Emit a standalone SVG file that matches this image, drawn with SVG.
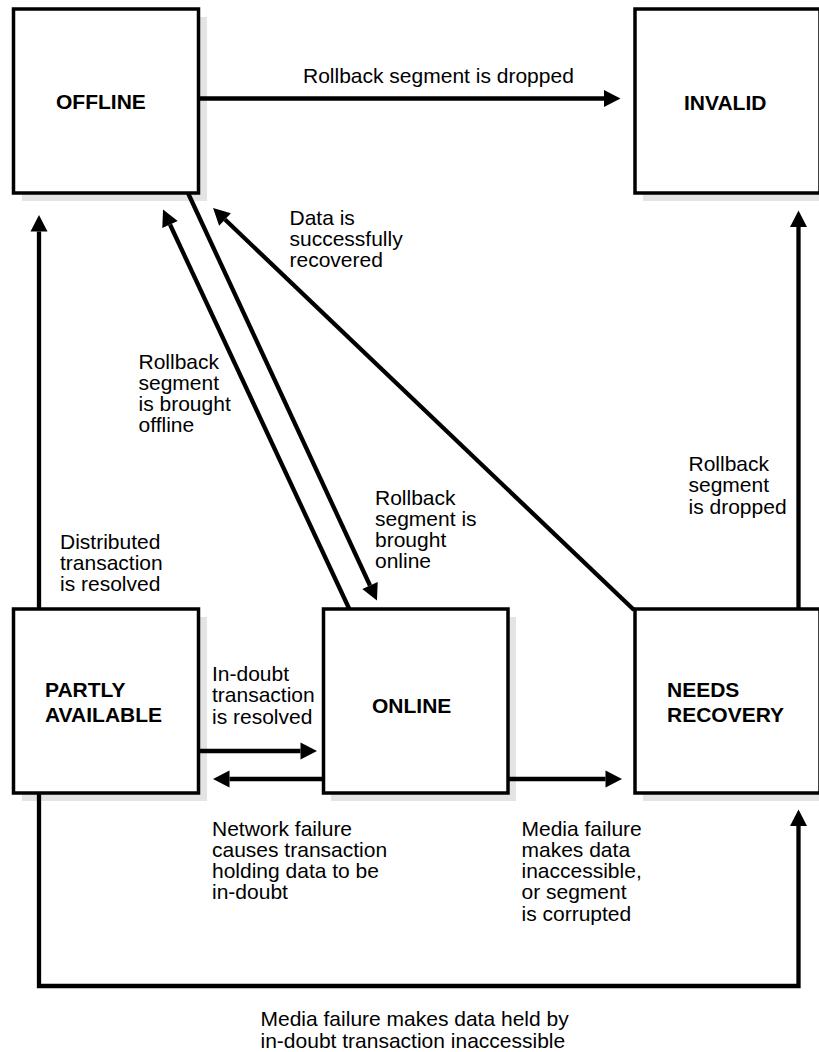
<svg xmlns="http://www.w3.org/2000/svg" width="819" height="1052" viewBox="0 0 819 1052">
<style>
.box{fill:#fff;stroke:#000;stroke-width:3.5}
.shadow{fill:#e4e4e4}
.title{font-family:"Liberation Sans",Arial,sans-serif;font-size:21px;font-weight:bold;fill:#000}
.lbl{font-family:"Liberation Sans",Arial,sans-serif;font-size:21px;fill:#000}
.edge{fill:none;stroke:#000;stroke-width:4.3}
</style>
<defs>
<marker id="ah" markerUnits="userSpaceOnUse" markerWidth="17" markerHeight="18" refX="0" refY="8.5" orient="auto" overflow="visible">
<path d="M0,0 L16.5,8.5 L0,17 z" fill="#000"/>
</marker>
</defs>
<rect width="819" height="1052" fill="#fff"/>

<g id="offline">
<rect class="shadow" x="22" y="17" width="185" height="184"/>
<rect class="box" x="13.5" y="9" width="185" height="184"/>
<text class="title" x="56" y="109">OFFLINE</text>
</g>
<g id="invalid">
<rect class="shadow" x="643" y="17" width="185" height="184"/>
<rect class="box" x="635" y="9" width="185" height="184"/>
<text class="title" x="684" y="110">INVALID</text>
</g>
<g id="partly">
<rect class="shadow" x="22" y="617" width="185" height="184"/>
<rect class="box" x="13.5" y="609" width="185" height="184"/>
<text class="title" x="45" y="697">PARTLY</text>
<text class="title" x="45" y="722">AVAILABLE</text>
</g>
<g id="online">
<rect class="shadow" x="331" y="617" width="185" height="184"/>
<rect class="box" x="323.5" y="609" width="184.5" height="184"/>
<text class="title" x="372" y="713">ONLINE</text>
</g>
<g id="needs">
<rect class="shadow" x="643" y="617" width="185" height="184"/>
<rect class="box" x="635" y="609" width="185" height="184"/>
<text class="title" x="667" y="697">NEEDS</text>
<text class="title" x="667" y="722">RECOVERY</text>
</g>

<g id="connectors">
<line class="edge" x1="198.5" y1="98.5" x2="604" y2="98.5" marker-end="url(#ah)"/>
<line class="edge" x1="39" y1="609" x2="39" y2="231.5" marker-end="url(#ah)"/>
<line class="edge" x1="798.5" y1="609" x2="798.5" y2="227" marker-end="url(#ah)"/>
<line class="edge" x1="188" y1="193" x2="370" y2="585.5" marker-end="url(#ah)"/>
<line class="edge" x1="349.3" y1="609" x2="170" y2="224.5" marker-end="url(#ah)"/>
<line class="edge" x1="634" y1="610" x2="225" y2="219.5" marker-end="url(#ah)"/>
<line class="edge" x1="198.5" y1="751" x2="300.5" y2="751" marker-end="url(#ah)"/>
<line class="edge" x1="323.5" y1="779" x2="229.5" y2="779" marker-end="url(#ah)"/>
<line class="edge" x1="508" y1="779" x2="605.5" y2="779" marker-end="url(#ah)"/>
<polyline class="edge" points="39,793 39,986 798.5,986 798.5,826" marker-end="url(#ah)"/>
</g>

<g id="labels">
<text class="lbl" x="303" y="83">Rollback segment is dropped</text>
<text class="lbl" x="289.5"><tspan x="289.5" y="224.5">Data is</tspan><tspan x="289.5" y="245.5">successfully</tspan><tspan x="289.5" y="266.5">recovered</tspan></text>
<text class="lbl"><tspan x="138.5" y="368.5">Rollback</tspan><tspan x="138.5" y="389.5">segment</tspan><tspan x="138.5" y="410.5">is brought</tspan><tspan x="138.5" y="431.5">offline</tspan></text>
<text class="lbl"><tspan x="375" y="504.5">Rollback</tspan><tspan x="375" y="525.5">segment is</tspan><tspan x="375" y="546.5">brought</tspan><tspan x="375" y="567.5">online</tspan></text>
<text class="lbl"><tspan x="688.5" y="471">Rollback</tspan><tspan x="688.5" y="492">segment</tspan><tspan x="688.5" y="513.5">is dropped</tspan></text>
<text class="lbl"><tspan x="60" y="548.5">Distributed</tspan><tspan x="60" y="569.5">transaction</tspan><tspan x="60" y="591">is resolved</tspan></text>
<text class="lbl"><tspan x="212" y="681">In-doubt</tspan><tspan x="212" y="702">transaction</tspan><tspan x="212" y="723.5">is resolved</tspan></text>
<text class="lbl"><tspan x="212" y="835.5">Network failure</tspan><tspan x="212" y="856.5">causes transaction</tspan><tspan x="212" y="878">holding data to be</tspan><tspan x="212" y="899">in-doubt</tspan></text>
<text class="lbl"><tspan x="521.5" y="835.5">Media failure</tspan><tspan x="521.5" y="856.5">makes data</tspan><tspan x="521.5" y="878">inaccessible,</tspan><tspan x="521.5" y="899">or segment</tspan><tspan x="521.5" y="920.5">is corrupted</tspan></text>
<text class="lbl"><tspan x="260.5" y="1026">Media failure makes data held by</tspan><tspan x="260.5" y="1047.5">in-doubt transaction inaccessible</tspan></text>
</g>
</svg>
